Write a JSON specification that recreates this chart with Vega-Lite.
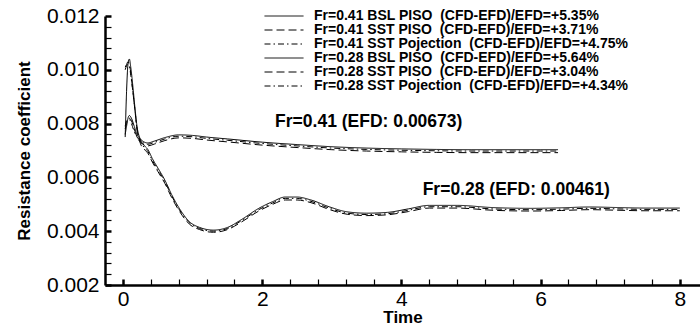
{
  "$schema": "https://vega.github.io/schema/vega-lite/v6.json",
  "autosize": {"type": "none"},
  "width": 595,
  "height": 269,
  "padding": {"left": 105, "top": 16, "right": 0, "bottom": 39},
  "background": "white",
  "config": {
    "view": {"stroke": null},
    "axis": {
      "grid": false,
      "ticks": true,
      "labelFont": "Liberation Sans",
      "labelFontSize": 21,
      "labelColor": "black",
      "domainColor": "black",
      "domainWidth": 2.5,
      "tickColor": "black",
      "titleFont": "Liberation Sans",
      "titleFontWeight": "bold",
      "titleFontSize": 17,
      "titleColor": "black",
      "labelOverlap": false,
      "labelFlush": false
    }
  },
  "encoding": {
    "x": {
      "field": "t", "type": "quantitative",
      "scale": {"domain": [-0.26, 8.29], "nice": false, "zero": false},
      "axis": {
        "title": "Time",
        "values": [0, 0.4, 0.8, 1.2, 1.6, 2, 2.4, 2.8, 3.2, 3.6, 4, 4.4, 4.8, 5.2, 5.6, 6, 6.4, 6.8, 7.2, 7.6, 8],
        "format": ".0f",
        "labelOverlap": false,
        "labelExpr": "abs(datum.value/2 - round(datum.value/2)) < 0.01 ? datum.label : ''",
        "tickSize": -6,
        "tickWidth": {"condition": {"test": "abs(datum.value/2 - round(datum.value/2)) < 0.01", "value": 2.5}, "value": 1.2},
        "labelPadding": 9,
        "titlePadding": 0
      }
    },
    "y": {
      "field": "v", "type": "quantitative",
      "scale": {"domain": [0.002, 0.012], "nice": false, "zero": false},
      "axis": {
        "title": "Resistance coefficient",
        "values": [0.002, 0.0024, 0.0028, 0.0032, 0.0036, 0.004, 0.0044, 0.0048, 0.0052, 0.0056, 0.006, 0.0064, 0.0068, 0.0072, 0.0076, 0.008, 0.0084, 0.0088, 0.0092, 0.0096, 0.01, 0.0104, 0.0108, 0.0112, 0.0116, 0.012],
        "format": ".3f",
        "labelOverlap": false,
        "labelExpr": "abs(datum.value*500 - round(datum.value*500)) < 0.01 ? datum.label : ''",
        "tickSize": -6,
        "tickWidth": {"condition": {"test": "abs(datum.value*500 - round(datum.value*500)) < 0.01", "value": 2.5}, "value": 1.2},
        "labelPadding": 12,
        "titlePadding": 13
      }
    }
  },
  "layer": [
    {
      "data": {"values": [
        {"s": "Fr=0.41 BSL PISO\u00a0 (CFD-EFD)/EFD=+5.35%", "t": 0.03, "v": 0.0076},
        {"s": "Fr=0.41 BSL PISO\u00a0 (CFD-EFD)/EFD=+5.35%", "t": 0.05, "v": 0.0079},
        {"s": "Fr=0.41 BSL PISO\u00a0 (CFD-EFD)/EFD=+5.35%", "t": 0.07, "v": 0.0082},
        {"s": "Fr=0.41 BSL PISO\u00a0 (CFD-EFD)/EFD=+5.35%", "t": 0.09, "v": 0.0083},
        {"s": "Fr=0.41 BSL PISO\u00a0 (CFD-EFD)/EFD=+5.35%", "t": 0.12, "v": 0.0082},
        {"s": "Fr=0.41 BSL PISO\u00a0 (CFD-EFD)/EFD=+5.35%", "t": 0.16, "v": 0.0079},
        {"s": "Fr=0.41 BSL PISO\u00a0 (CFD-EFD)/EFD=+5.35%", "t": 0.2, "v": 0.0076},
        {"s": "Fr=0.41 BSL PISO\u00a0 (CFD-EFD)/EFD=+5.35%", "t": 0.25, "v": 0.00742},
        {"s": "Fr=0.41 BSL PISO\u00a0 (CFD-EFD)/EFD=+5.35%", "t": 0.3, "v": 0.00732},
        {"s": "Fr=0.41 BSL PISO\u00a0 (CFD-EFD)/EFD=+5.35%", "t": 0.35, "v": 0.00728},
        {"s": "Fr=0.41 BSL PISO\u00a0 (CFD-EFD)/EFD=+5.35%", "t": 0.45, "v": 0.00735},
        {"s": "Fr=0.41 BSL PISO\u00a0 (CFD-EFD)/EFD=+5.35%", "t": 0.6, "v": 0.00748},
        {"s": "Fr=0.41 BSL PISO\u00a0 (CFD-EFD)/EFD=+5.35%", "t": 0.8, "v": 0.00758},
        {"s": "Fr=0.41 BSL PISO\u00a0 (CFD-EFD)/EFD=+5.35%", "t": 1.0, "v": 0.00756},
        {"s": "Fr=0.41 BSL PISO\u00a0 (CFD-EFD)/EFD=+5.35%", "t": 1.2, "v": 0.0075},
        {"s": "Fr=0.41 BSL PISO\u00a0 (CFD-EFD)/EFD=+5.35%", "t": 1.5, "v": 0.00743},
        {"s": "Fr=0.41 BSL PISO\u00a0 (CFD-EFD)/EFD=+5.35%", "t": 2.0, "v": 0.00731},
        {"s": "Fr=0.41 BSL PISO\u00a0 (CFD-EFD)/EFD=+5.35%", "t": 2.5, "v": 0.00722},
        {"s": "Fr=0.41 BSL PISO\u00a0 (CFD-EFD)/EFD=+5.35%", "t": 3.0, "v": 0.00714},
        {"s": "Fr=0.41 BSL PISO\u00a0 (CFD-EFD)/EFD=+5.35%", "t": 3.5, "v": 0.00709},
        {"s": "Fr=0.41 BSL PISO\u00a0 (CFD-EFD)/EFD=+5.35%", "t": 4.0, "v": 0.00706},
        {"s": "Fr=0.41 BSL PISO\u00a0 (CFD-EFD)/EFD=+5.35%", "t": 4.5, "v": 0.00704},
        {"s": "Fr=0.41 BSL PISO\u00a0 (CFD-EFD)/EFD=+5.35%", "t": 5.0, "v": 0.00703},
        {"s": "Fr=0.41 BSL PISO\u00a0 (CFD-EFD)/EFD=+5.35%", "t": 5.5, "v": 0.00703},
        {"s": "Fr=0.41 BSL PISO\u00a0 (CFD-EFD)/EFD=+5.35%", "t": 6.0, "v": 0.00703},
        {"s": "Fr=0.41 BSL PISO\u00a0 (CFD-EFD)/EFD=+5.35%", "t": 6.25, "v": 0.00703},

        {"s": "Fr=0.41 SST PISO\u00a0 (CFD-EFD)/EFD=+3.71%", "t": 0.03, "v": 0.0078},
        {"s": "Fr=0.41 SST PISO\u00a0 (CFD-EFD)/EFD=+3.71%", "t": 0.05, "v": 0.008},
        {"s": "Fr=0.41 SST PISO\u00a0 (CFD-EFD)/EFD=+3.71%", "t": 0.07, "v": 0.0082},
        {"s": "Fr=0.41 SST PISO\u00a0 (CFD-EFD)/EFD=+3.71%", "t": 0.09, "v": 0.0082},
        {"s": "Fr=0.41 SST PISO\u00a0 (CFD-EFD)/EFD=+3.71%", "t": 0.12, "v": 0.0081},
        {"s": "Fr=0.41 SST PISO\u00a0 (CFD-EFD)/EFD=+3.71%", "t": 0.16, "v": 0.0078},
        {"s": "Fr=0.41 SST PISO\u00a0 (CFD-EFD)/EFD=+3.71%", "t": 0.2, "v": 0.0075},
        {"s": "Fr=0.41 SST PISO\u00a0 (CFD-EFD)/EFD=+3.71%", "t": 0.25, "v": 0.00731},
        {"s": "Fr=0.41 SST PISO\u00a0 (CFD-EFD)/EFD=+3.71%", "t": 0.3, "v": 0.00721},
        {"s": "Fr=0.41 SST PISO\u00a0 (CFD-EFD)/EFD=+3.71%", "t": 0.35, "v": 0.00717},
        {"s": "Fr=0.41 SST PISO\u00a0 (CFD-EFD)/EFD=+3.71%", "t": 0.45, "v": 0.00724},
        {"s": "Fr=0.41 SST PISO\u00a0 (CFD-EFD)/EFD=+3.71%", "t": 0.6, "v": 0.00737},
        {"s": "Fr=0.41 SST PISO\u00a0 (CFD-EFD)/EFD=+3.71%", "t": 0.8, "v": 0.00747},
        {"s": "Fr=0.41 SST PISO\u00a0 (CFD-EFD)/EFD=+3.71%", "t": 1.0, "v": 0.00745},
        {"s": "Fr=0.41 SST PISO\u00a0 (CFD-EFD)/EFD=+3.71%", "t": 1.2, "v": 0.00739},
        {"s": "Fr=0.41 SST PISO\u00a0 (CFD-EFD)/EFD=+3.71%", "t": 1.5, "v": 0.00732},
        {"s": "Fr=0.41 SST PISO\u00a0 (CFD-EFD)/EFD=+3.71%", "t": 2.0, "v": 0.0072},
        {"s": "Fr=0.41 SST PISO\u00a0 (CFD-EFD)/EFD=+3.71%", "t": 2.5, "v": 0.00711},
        {"s": "Fr=0.41 SST PISO\u00a0 (CFD-EFD)/EFD=+3.71%", "t": 3.0, "v": 0.00703},
        {"s": "Fr=0.41 SST PISO\u00a0 (CFD-EFD)/EFD=+3.71%", "t": 3.5, "v": 0.00698},
        {"s": "Fr=0.41 SST PISO\u00a0 (CFD-EFD)/EFD=+3.71%", "t": 4.0, "v": 0.00695},
        {"s": "Fr=0.41 SST PISO\u00a0 (CFD-EFD)/EFD=+3.71%", "t": 4.5, "v": 0.00693},
        {"s": "Fr=0.41 SST PISO\u00a0 (CFD-EFD)/EFD=+3.71%", "t": 5.0, "v": 0.00692},
        {"s": "Fr=0.41 SST PISO\u00a0 (CFD-EFD)/EFD=+3.71%", "t": 5.5, "v": 0.00692},
        {"s": "Fr=0.41 SST PISO\u00a0 (CFD-EFD)/EFD=+3.71%", "t": 6.0, "v": 0.00692},
        {"s": "Fr=0.41 SST PISO\u00a0 (CFD-EFD)/EFD=+3.71%", "t": 6.25, "v": 0.00692},

        {"s": "Fr=0.41 SST Pojection\u00a0 (CFD-EFD)/EFD=+4.75%", "t": 0.03, "v": 0.0079},
        {"s": "Fr=0.41 SST Pojection\u00a0 (CFD-EFD)/EFD=+4.75%", "t": 0.05, "v": 0.0081},
        {"s": "Fr=0.41 SST Pojection\u00a0 (CFD-EFD)/EFD=+4.75%", "t": 0.07, "v": 0.00815},
        {"s": "Fr=0.41 SST Pojection\u00a0 (CFD-EFD)/EFD=+4.75%", "t": 0.09, "v": 0.00815},
        {"s": "Fr=0.41 SST Pojection\u00a0 (CFD-EFD)/EFD=+4.75%", "t": 0.12, "v": 0.008},
        {"s": "Fr=0.41 SST Pojection\u00a0 (CFD-EFD)/EFD=+4.75%", "t": 0.16, "v": 0.0077},
        {"s": "Fr=0.41 SST Pojection\u00a0 (CFD-EFD)/EFD=+4.75%", "t": 0.2, "v": 0.0075},
        {"s": "Fr=0.41 SST Pojection\u00a0 (CFD-EFD)/EFD=+4.75%", "t": 0.25, "v": 0.00737},
        {"s": "Fr=0.41 SST Pojection\u00a0 (CFD-EFD)/EFD=+4.75%", "t": 0.3, "v": 0.00727},
        {"s": "Fr=0.41 SST Pojection\u00a0 (CFD-EFD)/EFD=+4.75%", "t": 0.35, "v": 0.00723},
        {"s": "Fr=0.41 SST Pojection\u00a0 (CFD-EFD)/EFD=+4.75%", "t": 0.45, "v": 0.0073},
        {"s": "Fr=0.41 SST Pojection\u00a0 (CFD-EFD)/EFD=+4.75%", "t": 0.6, "v": 0.00743},
        {"s": "Fr=0.41 SST Pojection\u00a0 (CFD-EFD)/EFD=+4.75%", "t": 0.8, "v": 0.00753},
        {"s": "Fr=0.41 SST Pojection\u00a0 (CFD-EFD)/EFD=+4.75%", "t": 1.0, "v": 0.00751},
        {"s": "Fr=0.41 SST Pojection\u00a0 (CFD-EFD)/EFD=+4.75%", "t": 1.2, "v": 0.00745},
        {"s": "Fr=0.41 SST Pojection\u00a0 (CFD-EFD)/EFD=+4.75%", "t": 1.5, "v": 0.00738},
        {"s": "Fr=0.41 SST Pojection\u00a0 (CFD-EFD)/EFD=+4.75%", "t": 2.0, "v": 0.00726},
        {"s": "Fr=0.41 SST Pojection\u00a0 (CFD-EFD)/EFD=+4.75%", "t": 2.5, "v": 0.00717},
        {"s": "Fr=0.41 SST Pojection\u00a0 (CFD-EFD)/EFD=+4.75%", "t": 3.0, "v": 0.00709},
        {"s": "Fr=0.41 SST Pojection\u00a0 (CFD-EFD)/EFD=+4.75%", "t": 3.5, "v": 0.00704},
        {"s": "Fr=0.41 SST Pojection\u00a0 (CFD-EFD)/EFD=+4.75%", "t": 4.0, "v": 0.00701},
        {"s": "Fr=0.41 SST Pojection\u00a0 (CFD-EFD)/EFD=+4.75%", "t": 4.5, "v": 0.00699},
        {"s": "Fr=0.41 SST Pojection\u00a0 (CFD-EFD)/EFD=+4.75%", "t": 5.0, "v": 0.00698},
        {"s": "Fr=0.41 SST Pojection\u00a0 (CFD-EFD)/EFD=+4.75%", "t": 5.5, "v": 0.00698},
        {"s": "Fr=0.41 SST Pojection\u00a0 (CFD-EFD)/EFD=+4.75%", "t": 6.0, "v": 0.00698},
        {"s": "Fr=0.41 SST Pojection\u00a0 (CFD-EFD)/EFD=+4.75%", "t": 6.25, "v": 0.00698},

        {"s": "Fr=0.28 BSL PISO\u00a0 (CFD-EFD)/EFD=+5.64%", "t": 0.03, "v": 0.0075},
        {"s": "Fr=0.28 BSL PISO\u00a0 (CFD-EFD)/EFD=+5.64%", "t": 0.05, "v": 0.0092},
        {"s": "Fr=0.28 BSL PISO\u00a0 (CFD-EFD)/EFD=+5.64%", "t": 0.07, "v": 0.0102},
        {"s": "Fr=0.28 BSL PISO\u00a0 (CFD-EFD)/EFD=+5.64%", "t": 0.09, "v": 0.0104},
        {"s": "Fr=0.28 BSL PISO\u00a0 (CFD-EFD)/EFD=+5.64%", "t": 0.11, "v": 0.0101},
        {"s": "Fr=0.28 BSL PISO\u00a0 (CFD-EFD)/EFD=+5.64%", "t": 0.14, "v": 0.0094},
        {"s": "Fr=0.28 BSL PISO\u00a0 (CFD-EFD)/EFD=+5.64%", "t": 0.17, "v": 0.0086},
        {"s": "Fr=0.28 BSL PISO\u00a0 (CFD-EFD)/EFD=+5.64%", "t": 0.2, "v": 0.0079},
        {"s": "Fr=0.28 BSL PISO\u00a0 (CFD-EFD)/EFD=+5.64%", "t": 0.25, "v": 0.0074},
        {"s": "Fr=0.28 BSL PISO\u00a0 (CFD-EFD)/EFD=+5.64%", "t": 0.3, "v": 0.0072},
        {"s": "Fr=0.28 BSL PISO\u00a0 (CFD-EFD)/EFD=+5.64%", "t": 0.36, "v": 0.00702},
        {"s": "Fr=0.28 BSL PISO\u00a0 (CFD-EFD)/EFD=+5.64%", "t": 0.42, "v": 0.0067},
        {"s": "Fr=0.28 BSL PISO\u00a0 (CFD-EFD)/EFD=+5.64%", "t": 0.5, "v": 0.00635},
        {"s": "Fr=0.28 BSL PISO\u00a0 (CFD-EFD)/EFD=+5.64%", "t": 0.6, "v": 0.0059},
        {"s": "Fr=0.28 BSL PISO\u00a0 (CFD-EFD)/EFD=+5.64%", "t": 0.7, "v": 0.00535},
        {"s": "Fr=0.28 BSL PISO\u00a0 (CFD-EFD)/EFD=+5.64%", "t": 0.82, "v": 0.0048},
        {"s": "Fr=0.28 BSL PISO\u00a0 (CFD-EFD)/EFD=+5.64%", "t": 0.95, "v": 0.00436},
        {"s": "Fr=0.28 BSL PISO\u00a0 (CFD-EFD)/EFD=+5.64%", "t": 1.1, "v": 0.00414},
        {"s": "Fr=0.28 BSL PISO\u00a0 (CFD-EFD)/EFD=+5.64%", "t": 1.3, "v": 0.00404},
        {"s": "Fr=0.28 BSL PISO\u00a0 (CFD-EFD)/EFD=+5.64%", "t": 1.5, "v": 0.00414},
        {"s": "Fr=0.28 BSL PISO\u00a0 (CFD-EFD)/EFD=+5.64%", "t": 1.7, "v": 0.00443},
        {"s": "Fr=0.28 BSL PISO\u00a0 (CFD-EFD)/EFD=+5.64%", "t": 1.95, "v": 0.00485},
        {"s": "Fr=0.28 BSL PISO\u00a0 (CFD-EFD)/EFD=+5.64%", "t": 2.15, "v": 0.0051},
        {"s": "Fr=0.28 BSL PISO\u00a0 (CFD-EFD)/EFD=+5.64%", "t": 2.33, "v": 0.00527},
        {"s": "Fr=0.28 BSL PISO\u00a0 (CFD-EFD)/EFD=+5.64%", "t": 2.5, "v": 0.00527},
        {"s": "Fr=0.28 BSL PISO\u00a0 (CFD-EFD)/EFD=+5.64%", "t": 2.7, "v": 0.00516},
        {"s": "Fr=0.28 BSL PISO\u00a0 (CFD-EFD)/EFD=+5.64%", "t": 2.97, "v": 0.0049},
        {"s": "Fr=0.28 BSL PISO\u00a0 (CFD-EFD)/EFD=+5.64%", "t": 3.22, "v": 0.00472},
        {"s": "Fr=0.28 BSL PISO\u00a0 (CFD-EFD)/EFD=+5.64%", "t": 3.5, "v": 0.00467},
        {"s": "Fr=0.28 BSL PISO\u00a0 (CFD-EFD)/EFD=+5.64%", "t": 3.8, "v": 0.0047},
        {"s": "Fr=0.28 BSL PISO\u00a0 (CFD-EFD)/EFD=+5.64%", "t": 4.1, "v": 0.00483},
        {"s": "Fr=0.28 BSL PISO\u00a0 (CFD-EFD)/EFD=+5.64%", "t": 4.4, "v": 0.00496},
        {"s": "Fr=0.28 BSL PISO\u00a0 (CFD-EFD)/EFD=+5.64%", "t": 4.8, "v": 0.00496},
        {"s": "Fr=0.28 BSL PISO\u00a0 (CFD-EFD)/EFD=+5.64%", "t": 5.3, "v": 0.00488},
        {"s": "Fr=0.28 BSL PISO\u00a0 (CFD-EFD)/EFD=+5.64%", "t": 5.85, "v": 0.00485},
        {"s": "Fr=0.28 BSL PISO\u00a0 (CFD-EFD)/EFD=+5.64%", "t": 6.3, "v": 0.00487},
        {"s": "Fr=0.28 BSL PISO\u00a0 (CFD-EFD)/EFD=+5.64%", "t": 6.7, "v": 0.0049},
        {"s": "Fr=0.28 BSL PISO\u00a0 (CFD-EFD)/EFD=+5.64%", "t": 7.1, "v": 0.00488},
        {"s": "Fr=0.28 BSL PISO\u00a0 (CFD-EFD)/EFD=+5.64%", "t": 7.5, "v": 0.00486},
        {"s": "Fr=0.28 BSL PISO\u00a0 (CFD-EFD)/EFD=+5.64%", "t": 8.0, "v": 0.00486},

        {"s": "Fr=0.28 SST PISO\u00a0 (CFD-EFD)/EFD=+3.04%", "t": 0.03, "v": 0.0101},
        {"s": "Fr=0.28 SST PISO\u00a0 (CFD-EFD)/EFD=+3.04%", "t": 0.05, "v": 0.0102},
        {"s": "Fr=0.28 SST PISO\u00a0 (CFD-EFD)/EFD=+3.04%", "t": 0.07, "v": 0.0103},
        {"s": "Fr=0.28 SST PISO\u00a0 (CFD-EFD)/EFD=+3.04%", "t": 0.09, "v": 0.0102},
        {"s": "Fr=0.28 SST PISO\u00a0 (CFD-EFD)/EFD=+3.04%", "t": 0.11, "v": 0.0099},
        {"s": "Fr=0.28 SST PISO\u00a0 (CFD-EFD)/EFD=+3.04%", "t": 0.14, "v": 0.0092},
        {"s": "Fr=0.28 SST PISO\u00a0 (CFD-EFD)/EFD=+3.04%", "t": 0.17, "v": 0.0085},
        {"s": "Fr=0.28 SST PISO\u00a0 (CFD-EFD)/EFD=+3.04%", "t": 0.2, "v": 0.0078},
        {"s": "Fr=0.28 SST PISO\u00a0 (CFD-EFD)/EFD=+3.04%", "t": 0.25, "v": 0.00725},
        {"s": "Fr=0.28 SST PISO\u00a0 (CFD-EFD)/EFD=+3.04%", "t": 0.3, "v": 0.00706},
        {"s": "Fr=0.28 SST PISO\u00a0 (CFD-EFD)/EFD=+3.04%", "t": 0.36, "v": 0.00688},
        {"s": "Fr=0.28 SST PISO\u00a0 (CFD-EFD)/EFD=+3.04%", "t": 0.42, "v": 0.00657},
        {"s": "Fr=0.28 SST PISO\u00a0 (CFD-EFD)/EFD=+3.04%", "t": 0.5, "v": 0.00622},
        {"s": "Fr=0.28 SST PISO\u00a0 (CFD-EFD)/EFD=+3.04%", "t": 0.6, "v": 0.00578},
        {"s": "Fr=0.28 SST PISO\u00a0 (CFD-EFD)/EFD=+3.04%", "t": 0.7, "v": 0.00524},
        {"s": "Fr=0.28 SST PISO\u00a0 (CFD-EFD)/EFD=+3.04%", "t": 0.82, "v": 0.0047},
        {"s": "Fr=0.28 SST PISO\u00a0 (CFD-EFD)/EFD=+3.04%", "t": 0.95, "v": 0.00427},
        {"s": "Fr=0.28 SST PISO\u00a0 (CFD-EFD)/EFD=+3.04%", "t": 1.1, "v": 0.00406},
        {"s": "Fr=0.28 SST PISO\u00a0 (CFD-EFD)/EFD=+3.04%", "t": 1.3, "v": 0.00396},
        {"s": "Fr=0.28 SST PISO\u00a0 (CFD-EFD)/EFD=+3.04%", "t": 1.5, "v": 0.00406},
        {"s": "Fr=0.28 SST PISO\u00a0 (CFD-EFD)/EFD=+3.04%", "t": 1.7, "v": 0.00434},
        {"s": "Fr=0.28 SST PISO\u00a0 (CFD-EFD)/EFD=+3.04%", "t": 1.95, "v": 0.00475},
        {"s": "Fr=0.28 SST PISO\u00a0 (CFD-EFD)/EFD=+3.04%", "t": 2.15, "v": 0.005},
        {"s": "Fr=0.28 SST PISO\u00a0 (CFD-EFD)/EFD=+3.04%", "t": 2.33, "v": 0.00516},
        {"s": "Fr=0.28 SST PISO\u00a0 (CFD-EFD)/EFD=+3.04%", "t": 2.5, "v": 0.00516},
        {"s": "Fr=0.28 SST PISO\u00a0 (CFD-EFD)/EFD=+3.04%", "t": 2.7, "v": 0.00506},
        {"s": "Fr=0.28 SST PISO\u00a0 (CFD-EFD)/EFD=+3.04%", "t": 2.97, "v": 0.0048},
        {"s": "Fr=0.28 SST PISO\u00a0 (CFD-EFD)/EFD=+3.04%", "t": 3.22, "v": 0.00463},
        {"s": "Fr=0.28 SST PISO\u00a0 (CFD-EFD)/EFD=+3.04%", "t": 3.5, "v": 0.00458},
        {"s": "Fr=0.28 SST PISO\u00a0 (CFD-EFD)/EFD=+3.04%", "t": 3.8, "v": 0.00461},
        {"s": "Fr=0.28 SST PISO\u00a0 (CFD-EFD)/EFD=+3.04%", "t": 4.1, "v": 0.00473},
        {"s": "Fr=0.28 SST PISO\u00a0 (CFD-EFD)/EFD=+3.04%", "t": 4.4, "v": 0.00486},
        {"s": "Fr=0.28 SST PISO\u00a0 (CFD-EFD)/EFD=+3.04%", "t": 4.8, "v": 0.00486},
        {"s": "Fr=0.28 SST PISO\u00a0 (CFD-EFD)/EFD=+3.04%", "t": 5.3, "v": 0.00478},
        {"s": "Fr=0.28 SST PISO\u00a0 (CFD-EFD)/EFD=+3.04%", "t": 5.85, "v": 0.00475},
        {"s": "Fr=0.28 SST PISO\u00a0 (CFD-EFD)/EFD=+3.04%", "t": 6.3, "v": 0.00477},
        {"s": "Fr=0.28 SST PISO\u00a0 (CFD-EFD)/EFD=+3.04%", "t": 6.7, "v": 0.0048},
        {"s": "Fr=0.28 SST PISO\u00a0 (CFD-EFD)/EFD=+3.04%", "t": 7.1, "v": 0.00478},
        {"s": "Fr=0.28 SST PISO\u00a0 (CFD-EFD)/EFD=+3.04%", "t": 7.5, "v": 0.00476},
        {"s": "Fr=0.28 SST PISO\u00a0 (CFD-EFD)/EFD=+3.04%", "t": 8.0, "v": 0.00476},

        {"s": "Fr=0.28 SST Pojection\u00a0 (CFD-EFD)/EFD=+4.34%", "t": 0.03, "v": 0.01},
        {"s": "Fr=0.28 SST Pojection\u00a0 (CFD-EFD)/EFD=+4.34%", "t": 0.05, "v": 0.01015},
        {"s": "Fr=0.28 SST Pojection\u00a0 (CFD-EFD)/EFD=+4.34%", "t": 0.07, "v": 0.0102},
        {"s": "Fr=0.28 SST Pojection\u00a0 (CFD-EFD)/EFD=+4.34%", "t": 0.09, "v": 0.01015},
        {"s": "Fr=0.28 SST Pojection\u00a0 (CFD-EFD)/EFD=+4.34%", "t": 0.11, "v": 0.0098},
        {"s": "Fr=0.28 SST Pojection\u00a0 (CFD-EFD)/EFD=+4.34%", "t": 0.14, "v": 0.0092},
        {"s": "Fr=0.28 SST Pojection\u00a0 (CFD-EFD)/EFD=+4.34%", "t": 0.17, "v": 0.0085},
        {"s": "Fr=0.28 SST Pojection\u00a0 (CFD-EFD)/EFD=+4.34%", "t": 0.2, "v": 0.0078},
        {"s": "Fr=0.28 SST Pojection\u00a0 (CFD-EFD)/EFD=+4.34%", "t": 0.25, "v": 0.00733},
        {"s": "Fr=0.28 SST Pojection\u00a0 (CFD-EFD)/EFD=+4.34%", "t": 0.3, "v": 0.00713},
        {"s": "Fr=0.28 SST Pojection\u00a0 (CFD-EFD)/EFD=+4.34%", "t": 0.36, "v": 0.00695},
        {"s": "Fr=0.28 SST Pojection\u00a0 (CFD-EFD)/EFD=+4.34%", "t": 0.42, "v": 0.00663},
        {"s": "Fr=0.28 SST Pojection\u00a0 (CFD-EFD)/EFD=+4.34%", "t": 0.5, "v": 0.00629},
        {"s": "Fr=0.28 SST Pojection\u00a0 (CFD-EFD)/EFD=+4.34%", "t": 0.6, "v": 0.00584},
        {"s": "Fr=0.28 SST Pojection\u00a0 (CFD-EFD)/EFD=+4.34%", "t": 0.7, "v": 0.0053},
        {"s": "Fr=0.28 SST Pojection\u00a0 (CFD-EFD)/EFD=+4.34%", "t": 0.82, "v": 0.00475},
        {"s": "Fr=0.28 SST Pojection\u00a0 (CFD-EFD)/EFD=+4.34%", "t": 0.95, "v": 0.00432},
        {"s": "Fr=0.28 SST Pojection\u00a0 (CFD-EFD)/EFD=+4.34%", "t": 1.1, "v": 0.0041},
        {"s": "Fr=0.28 SST Pojection\u00a0 (CFD-EFD)/EFD=+4.34%", "t": 1.3, "v": 0.004},
        {"s": "Fr=0.28 SST Pojection\u00a0 (CFD-EFD)/EFD=+4.34%", "t": 1.5, "v": 0.0041},
        {"s": "Fr=0.28 SST Pojection\u00a0 (CFD-EFD)/EFD=+4.34%", "t": 1.7, "v": 0.00439},
        {"s": "Fr=0.28 SST Pojection\u00a0 (CFD-EFD)/EFD=+4.34%", "t": 1.95, "v": 0.0048},
        {"s": "Fr=0.28 SST Pojection\u00a0 (CFD-EFD)/EFD=+4.34%", "t": 2.15, "v": 0.00505},
        {"s": "Fr=0.28 SST Pojection\u00a0 (CFD-EFD)/EFD=+4.34%", "t": 2.33, "v": 0.00522},
        {"s": "Fr=0.28 SST Pojection\u00a0 (CFD-EFD)/EFD=+4.34%", "t": 2.5, "v": 0.00522},
        {"s": "Fr=0.28 SST Pojection\u00a0 (CFD-EFD)/EFD=+4.34%", "t": 2.7, "v": 0.00511},
        {"s": "Fr=0.28 SST Pojection\u00a0 (CFD-EFD)/EFD=+4.34%", "t": 2.97, "v": 0.00485},
        {"s": "Fr=0.28 SST Pojection\u00a0 (CFD-EFD)/EFD=+4.34%", "t": 3.22, "v": 0.00467},
        {"s": "Fr=0.28 SST Pojection\u00a0 (CFD-EFD)/EFD=+4.34%", "t": 3.5, "v": 0.00462},
        {"s": "Fr=0.28 SST Pojection\u00a0 (CFD-EFD)/EFD=+4.34%", "t": 3.8, "v": 0.00465},
        {"s": "Fr=0.28 SST Pojection\u00a0 (CFD-EFD)/EFD=+4.34%", "t": 4.1, "v": 0.00478},
        {"s": "Fr=0.28 SST Pojection\u00a0 (CFD-EFD)/EFD=+4.34%", "t": 4.4, "v": 0.00491},
        {"s": "Fr=0.28 SST Pojection\u00a0 (CFD-EFD)/EFD=+4.34%", "t": 4.8, "v": 0.00491},
        {"s": "Fr=0.28 SST Pojection\u00a0 (CFD-EFD)/EFD=+4.34%", "t": 5.3, "v": 0.00483},
        {"s": "Fr=0.28 SST Pojection\u00a0 (CFD-EFD)/EFD=+4.34%", "t": 5.85, "v": 0.0048},
        {"s": "Fr=0.28 SST Pojection\u00a0 (CFD-EFD)/EFD=+4.34%", "t": 6.3, "v": 0.00482},
        {"s": "Fr=0.28 SST Pojection\u00a0 (CFD-EFD)/EFD=+4.34%", "t": 6.7, "v": 0.00485},
        {"s": "Fr=0.28 SST Pojection\u00a0 (CFD-EFD)/EFD=+4.34%", "t": 7.1, "v": 0.00483},
        {"s": "Fr=0.28 SST Pojection\u00a0 (CFD-EFD)/EFD=+4.34%", "t": 7.5, "v": 0.00481},
        {"s": "Fr=0.28 SST Pojection\u00a0 (CFD-EFD)/EFD=+4.34%", "t": 8.0, "v": 0.00481}
      ]},
      "mark": {"type": "line", "color": "black", "strokeWidth": 1, "interpolate": "monotone", "clip": true},
      "encoding": {
        "strokeDash": {
          "field": "s", "type": "nominal",
          "scale": {
            "domain": [
              "Fr=0.41 BSL PISO\u00a0 (CFD-EFD)/EFD=+5.35%",
              "Fr=0.41 SST PISO\u00a0 (CFD-EFD)/EFD=+3.71%",
              "Fr=0.41 SST Pojection\u00a0 (CFD-EFD)/EFD=+4.75%",
              "Fr=0.28 BSL PISO\u00a0 (CFD-EFD)/EFD=+5.64%",
              "Fr=0.28 SST PISO\u00a0 (CFD-EFD)/EFD=+3.04%",
              "Fr=0.28 SST Pojection\u00a0 (CFD-EFD)/EFD=+4.34%"
            ],
            "range": [[1, 0], [8, 4], [6, 3, 1.5, 3], [1, 0], [8, 4], [6, 3, 1.5, 3]]
          },
          "legend": {
            "title": null,
            "orient": "none",
            "legendX": 153,
            "legendY": -7,
            "padding": 0,
            "symbolType": "M-3,0H3",
            "symbolSize": 169,
            "symbolOffset": 19,
            "symbolStrokeColor": "black",
            "symbolStrokeWidth": 1,
            "labelFont": "Liberation Sans",
            "labelFontWeight": "bold",
            "labelFontSize": 14,
            "labelColor": "black",
            "labelLimit": 500,
            "rowPadding": 0,
            "labelOffset": 23
          }
        }
      }
    },
    {
      "data": {"values": [
        {"t": 3.53, "v": 0.00806, "label": "Fr=0.41 (EFD: 0.00673)"},
        {"t": 5.65, "v": 0.00553, "label": "Fr=0.28 (EFD: 0.00461)"}
      ]},
      "mark": {"type": "text", "font": "Liberation Sans", "fontWeight": "bold", "fontSize": 17.5, "color": "black", "align": "center", "baseline": "middle"},
      "encoding": {
        "text": {"field": "label"}
      }
    }
  ]
}
